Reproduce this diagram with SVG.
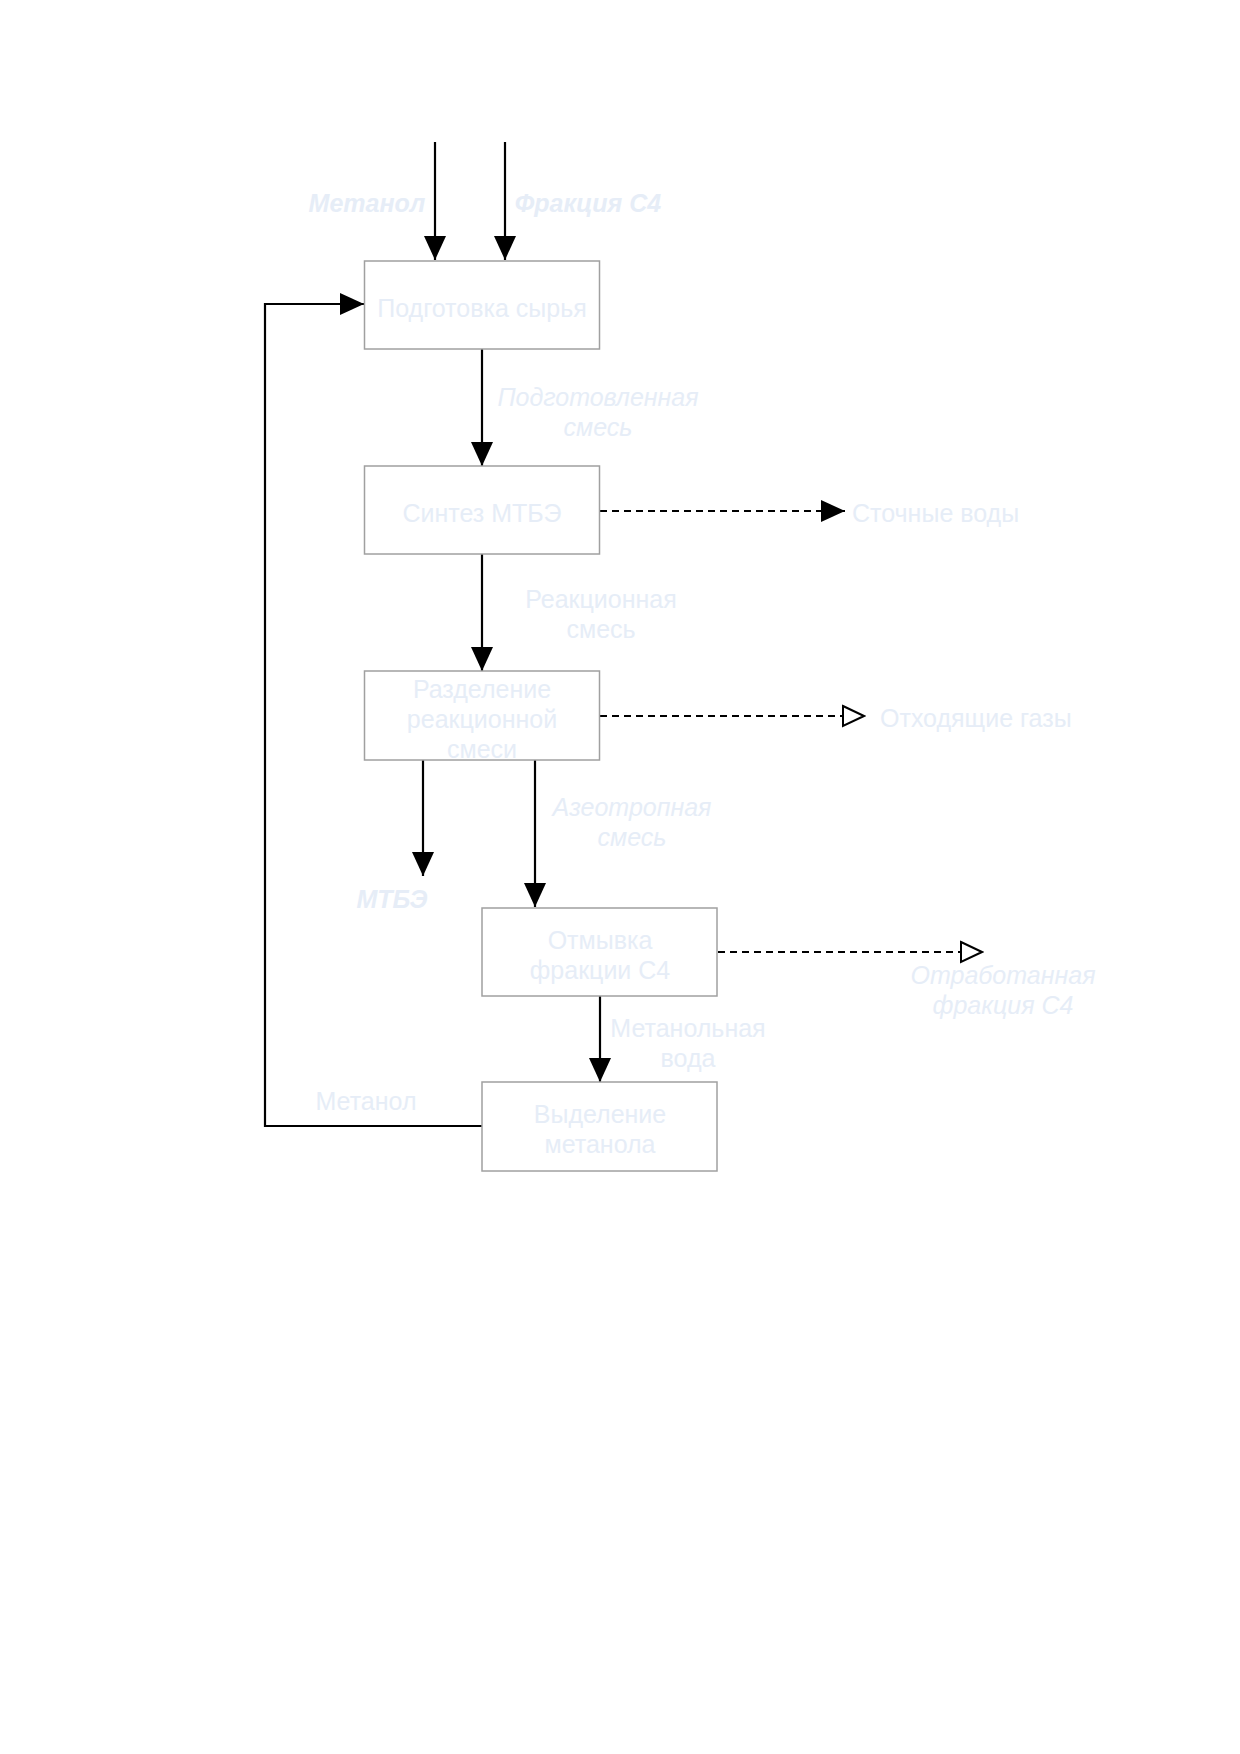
<svg xmlns="http://www.w3.org/2000/svg" width="1240" height="1754" viewBox="0 0 1240 1754">
<defs>
<marker id="af" viewBox="0 0 24 24" refX="24" refY="12" markerWidth="24" markerHeight="24" markerUnits="userSpaceOnUse" orient="auto">
<path d="M0,1 L24,12 L0,23 Z" fill="#000"/>
</marker>
<marker id="ah" viewBox="0 0 24 24" refX="22" refY="12" markerWidth="24" markerHeight="24" markerUnits="userSpaceOnUse" orient="auto">
<path d="M1,2 L22,12 L1,22 Z" fill="#fff" stroke="#000" stroke-width="2"/>
</marker>
</defs>
<style>
.box{fill:#fff;stroke:#a0a0a0;stroke-width:1.5}
.t{font-family:"Liberation Sans",Arial,sans-serif;font-size:25px;fill:#e6edf7;text-anchor:middle}
.i{font-style:italic}
.b{font-weight:bold}
.c{fill:none;stroke:#000;stroke-width:2.2}
.d{stroke-dasharray:7 5}
</style>
<rect width="1240" height="1754" fill="#fff"/>
<g id="connectors">
<line class="c" x1="435" y1="142" x2="435" y2="260" marker-end="url(#af)"/>
<line class="c" x1="505" y1="142" x2="505" y2="260" marker-end="url(#af)"/>
<line class="c" x1="482" y1="349" x2="482" y2="466" marker-end="url(#af)"/>
<line class="c" x1="482" y1="554" x2="482" y2="671" marker-end="url(#af)"/>
<line class="c d" x1="600" y1="511" x2="845" y2="511" marker-end="url(#af)"/>
<line class="c d" x1="600" y1="716" x2="864" y2="716" marker-end="url(#ah)"/>
<line class="c" x1="423" y1="760" x2="423" y2="876" marker-end="url(#af)"/>
<line class="c" x1="535" y1="760" x2="535" y2="907" marker-end="url(#af)"/>
<line class="c d" x1="718" y1="952" x2="982" y2="952" marker-end="url(#ah)"/>
<line class="c" x1="600" y1="996" x2="600" y2="1082" marker-end="url(#af)"/>
<polyline class="c" points="482,1126 265,1126 265,304 364,304" marker-end="url(#af)"/>
</g>
<g id="n1"><rect class="box" x="364.5" y="261" width="235" height="88"/><text class="t" x="482" y="317">Подготовка сырья</text></g>
<g id="n2"><rect class="box" x="364.5" y="466" width="235" height="88"/><text class="t" x="482" y="522">Синтез МТБЭ</text></g>
<g id="n3"><rect class="box" x="364.5" y="671" width="235" height="89"/><text class="t" x="482" y="698">Разделение</text><text class="t" x="482" y="728">реакционной</text><text class="t" x="482" y="758">смеси</text></g>
<g id="n4"><rect class="box" x="482" y="908" width="235" height="88"/><text class="t" x="600" y="949">Отмывка</text><text class="t" x="600" y="979">фракции С4</text></g>
<g id="n5"><rect class="box" x="482" y="1082" width="235" height="89"/><text class="t" x="600" y="1123">Выделение</text><text class="t" x="600" y="1153">метанола</text></g>
<g id="labels">
<text class="t i b" x="367" y="212">Метанол</text>
<text class="t i b" x="588" y="212">Фракция С4</text>
<text class="t i" x="598" y="406">Подготовленная</text>
<text class="t i" x="598" y="436">смесь</text>
<text class="t" x="852" y="522" style="text-anchor:start">Сточные воды</text>
<text class="t" x="601" y="608">Реакционная</text>
<text class="t" x="601" y="638">смесь</text>
<text class="t" x="880" y="727" style="text-anchor:start">Отходящие газы</text>
<text class="t i" x="632" y="816">Азеотропная</text>
<text class="t i" x="632" y="846">смесь</text>
<text class="t i b" x="392" y="908">МТБЭ</text>
<text class="t i" x="1003" y="984">Отработанная</text>
<text class="t i" x="1003" y="1014">фракция С4</text>
<text class="t" x="688" y="1037">Метанольная</text>
<text class="t" x="688" y="1067">вода</text>
<text class="t" x="366" y="1110">Метанол</text>
</g>
</svg>
